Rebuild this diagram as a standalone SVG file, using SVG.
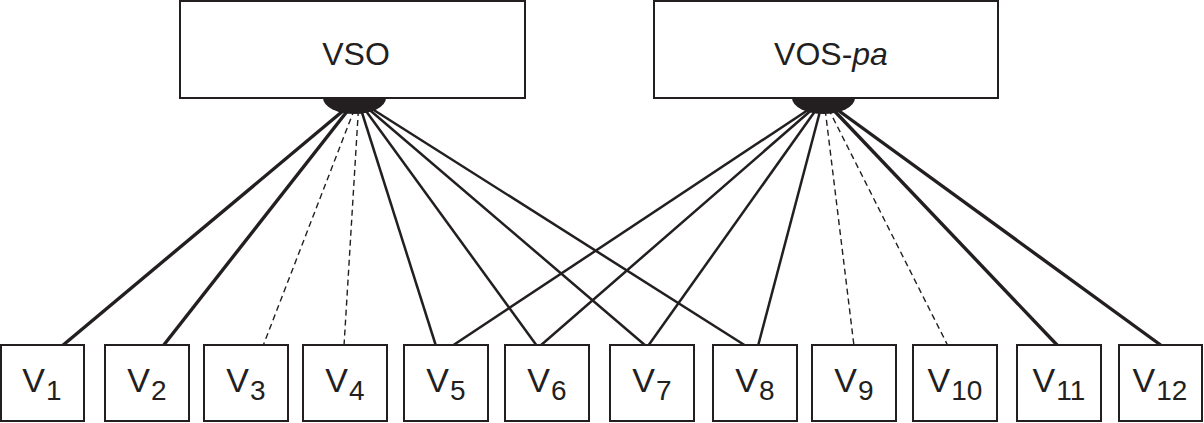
<svg xmlns="http://www.w3.org/2000/svg" width="1204" height="423" viewBox="0 0 1204 423">
<style>
.box{fill:#fff;stroke:#231f20;stroke-width:2}
.lbl{font-family:"Liberation Sans",Arial,sans-serif;fill:#231f20}
.top{font-size:32px}
.v{font-size:34px}
.sub{font-size:28px}
.thick{stroke:#231f20;stroke-width:3.4;fill:none}
.med{stroke:#231f20;stroke-width:2.5;fill:none}
.dash{stroke:#231f20;stroke-width:1.4;stroke-dasharray:6 4;fill:none}
.hub{fill:#231f20}
</style>
<rect width="1204" height="423" fill="#fff"/>
<g id="connectors">
  <line class="thick" x1="356" y1="100" x2="62" y2="346"/>
  <line class="thick" x1="356" y1="100" x2="163" y2="346"/>
  <line class="dash" x1="358" y1="100" x2="263" y2="346"/>
  <line class="dash" x1="359" y1="100" x2="344" y2="346"/>
  <line class="med" x1="358" y1="100" x2="436" y2="346"/>
  <line class="med" x1="358" y1="100" x2="537" y2="346"/>
  <line class="med" x1="358" y1="100" x2="646" y2="346"/>
  <line class="med" x1="358" y1="100" x2="746" y2="346"/>
  <line class="med" x1="823" y1="100" x2="452" y2="346"/>
  <line class="med" x1="823" y1="100" x2="540" y2="346"/>
  <line class="med" x1="823" y1="100" x2="648" y2="346"/>
  <line class="med" x1="823" y1="100" x2="758" y2="346"/>
  <line class="dash" x1="824" y1="100" x2="854" y2="346"/>
  <line class="dash" x1="824" y1="100" x2="948" y2="346"/>
  <line class="thick" x1="824" y1="100" x2="1058" y2="346"/>
  <line class="thick" x1="824" y1="100" x2="1162" y2="346"/>
</g>
<g id="VSO">
  <rect class="box" x="180" y="1" width="345" height="97"/>
  <path class="hub" d="M323,98 A31.5,16 0 0 0 386,98 Z"/>
  <text class="lbl top" x="356" y="65" text-anchor="middle">VSO</text>
</g>
<g id="VOS-pa">
  <rect class="box" x="654" y="1" width="344" height="97"/>
  <path class="hub" d="M792,98 A31.5,16 0 0 0 855,98 Z"/>
  <text class="lbl top" x="831" y="65" text-anchor="middle">VOS-<tspan font-style="italic">pa</tspan></text>
</g>
<g id="V1"><rect class="box" x="1" y="345" width="83" height="76"/><text class="lbl v" x="42" y="392" text-anchor="middle">V<tspan class="sub" dx="1" dy="8">1</tspan></text></g>
<g id="V2"><rect class="box" x="105" y="345" width="84" height="76"/><text class="lbl v" x="147" y="392" text-anchor="middle">V<tspan class="sub" dx="1" dy="8">2</tspan></text></g>
<g id="V3"><rect class="box" x="204" y="345" width="84" height="76"/><text class="lbl v" x="246" y="392" text-anchor="middle">V<tspan class="sub" dx="1" dy="8">3</tspan></text></g>
<g id="V4"><rect class="box" x="303" y="345" width="84" height="76"/><text class="lbl v" x="345" y="392" text-anchor="middle">V<tspan class="sub" dx="1" dy="8">4</tspan></text></g>
<g id="V5"><rect class="box" x="404" y="345" width="84" height="76"/><text class="lbl v" x="446" y="392" text-anchor="middle">V<tspan class="sub" dx="1" dy="8">5</tspan></text></g>
<g id="V6"><rect class="box" x="505" y="345" width="84" height="76"/><text class="lbl v" x="547" y="392" text-anchor="middle">V<tspan class="sub" dx="1" dy="8">6</tspan></text></g>
<g id="V7"><rect class="box" x="610" y="345" width="84" height="76"/><text class="lbl v" x="652" y="392" text-anchor="middle">V<tspan class="sub" dx="1" dy="8">7</tspan></text></g>
<g id="V8"><rect class="box" x="713" y="345" width="84" height="76"/><text class="lbl v" x="755" y="392" text-anchor="middle">V<tspan class="sub" dx="1" dy="8">8</tspan></text></g>
<g id="V9"><rect class="box" x="812" y="345" width="84" height="76"/><text class="lbl v" x="854" y="392" text-anchor="middle">V<tspan class="sub" dx="1" dy="8">9</tspan></text></g>
<g id="V10"><rect class="box" x="913" y="345" width="84" height="76"/><text class="lbl v" x="955" y="392" text-anchor="middle">V<tspan class="sub" dx="1" dy="8">10</tspan></text></g>
<g id="V11"><rect class="box" x="1017" y="345" width="84" height="76"/><text class="lbl v" x="1059" y="392" text-anchor="middle">V<tspan class="sub" dx="1" dy="8">11</tspan></text></g>
<g id="V12"><rect class="box" x="1119" y="345" width="83" height="76"/><text class="lbl v" x="1160" y="392" text-anchor="middle">V<tspan class="sub" dx="1" dy="8">12</tspan></text></g>
</svg>
